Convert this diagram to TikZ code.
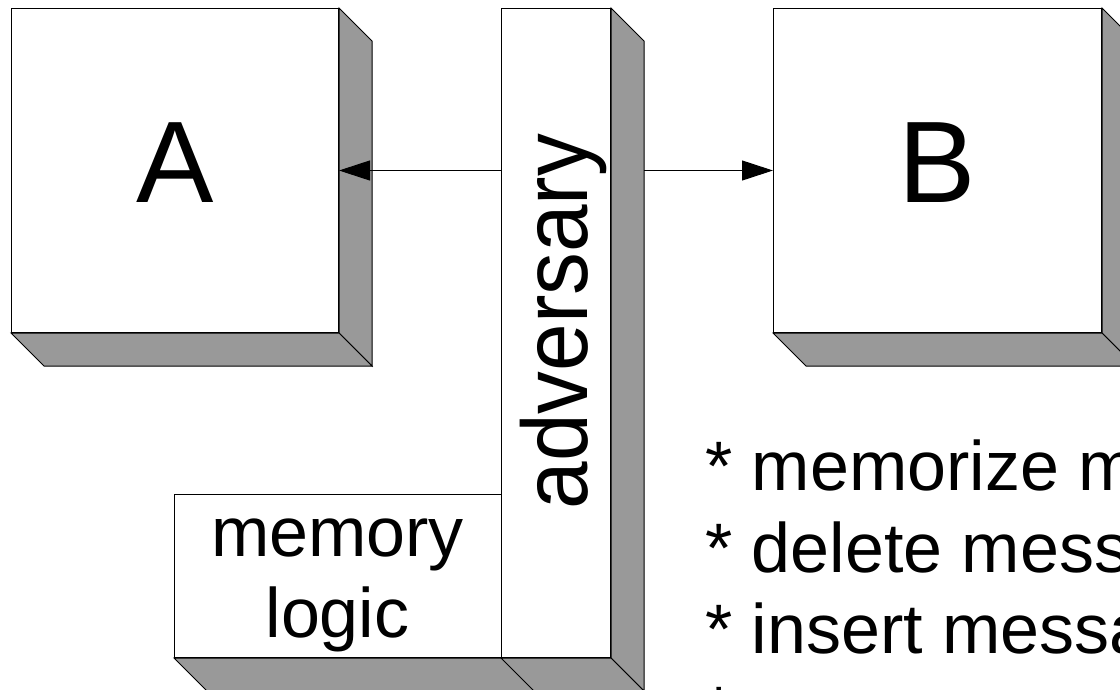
\documentclass[tikz,border=0pt]{standalone}
\usepackage{fontspec}
\setmainfont{Liberation Sans}
\usetikzlibrary{arrows.meta,calc}
\definecolor{shadowgray}{HTML}{999999}

% right and bottom faces of a solid block, 33 units deep
\newcommand\solidshadow[1]{%
  \draw[side] (#1.north east) -- ++(33,33) -- ($(#1.south east)+(33,33)$) -- (#1.south east) -- cycle;
  \draw[side] (#1.south west) -- (#1.south east) -- ++(33,33) -- ($(#1.south west)+(33,33)$) -- cycle;}

\begin{document}
\begin{tikzpicture}[x=1pt,y=-1pt,
  face/.style={draw=black,line width=1pt,fill=white,rectangle,inner sep=0pt,anchor=north west},
  side/.style={draw=black,line width=1pt,fill=shadowgray,line join=miter},
  conn/.style={draw=black,line width=1pt,-{Triangle[length=31pt,width=20pt]}},
  huge/.style={inner sep=0pt,font=\fontsize{116}{139}\selectfont},
  vert/.style={inner sep=0pt,font=\fontsize{93}{112}\selectfont},
  plain/.style={inner sep=0pt,font=\fontsize{70}{81}\selectfont}]
\useasboundingbox (0,0) rectangle (1120,689);
\clip (0,0) rectangle (1120,689);

% blocks A and B
\node[face,minimum width=327pt,minimum height=324pt] (A) at (11,8) {};
\solidshadow{A}
\node[face,minimum width=328pt,minimum height=324pt] (B) at (773,8) {};
\solidshadow{B}

% memory logic block, partly hidden behind the adversary column
\node[face,minimum width=327pt,minimum height=163pt] (mem) at (174,494) {};
\solidshadow{mem}
\node[face,minimum width=109pt,minimum height=649pt] (adv) at (501,8) {};
\solidshadow{adv}

% labels
\node[huge] (tA) at ($(A.center)+(0,-7.5)$) {A};
\node[huge] (tB) at ($(B.center)+(0,-7.5)$) {B};
\node[vert,rotate=90,anchor=base] (tadv) at ($(adv.center)+(31.5,-11.5)$) {\scalebox{0.92}[1]{adversary}};
\node[plain,anchor=base] (tmem1) at (337.5,556) {memory};
\node[plain,anchor=base] (tmem2) at (337.5,637) {logic};

% actions of the adversary
\node[plain,anchor=base west] (l1) at (705,490) {* memorize m};
\node[plain,anchor=base west] (l2) at (705,572) {* delete mess};
\node[plain,anchor=base west] (l3) at (705,653) {* insert messa};
\node[plain,anchor=base west] (l4) at (705,735) {*};

% message flow through the adversary
\draw[conn] (A.center -| adv.west) -- (A.east);
\draw[conn] ($(B.west -| adv.east)+(33,0)$) -- (B.west);
\end{tikzpicture}
\end{document}
